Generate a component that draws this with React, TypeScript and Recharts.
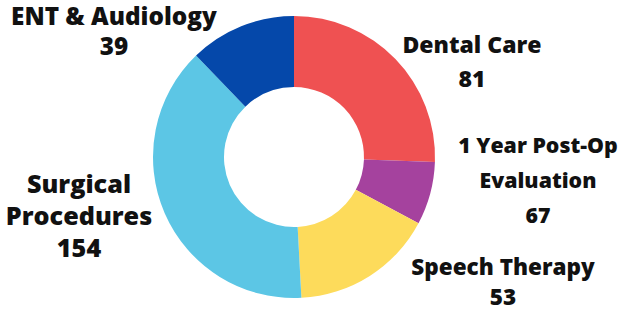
import React from "react"
import { PieChart, Pie, Cell } from "recharts"

// order: clockwise from 12 o'clock
const categories = [
  "Dental Care",
  "1 Year Post-Op Evaluation",
  "Speech Therapy",
  "Surgical Procedures",
  "ENT & Audiology",
]
// printed counts in the labels
const counts = [81, 67, 53, 154, 39]
// slice sizes as drawn (arc, degrees)
const sliceSizes = [92, 26, 59, 139, 44]
const colors = ["#EF5152", "#A5429E", "#FDDB5B", "#5CC6E5", "#0548AA"]

// label lines as they are broken in the picture
const labelLines = [
  ["Dental Care"],
  ["1 Year Post-Op", "Evaluation"],
  ["Speech Therapy"],
  ["Surgical", "Procedures"],
  ["ENT & Audiology"],
]

// text placement: center x, first baseline, line gap, font size
const labelLayout = [
  { x: 472, y: 53, gap: 34, size: 23 },
  { x: 538, y: 153, gap: 35, size: 21.3 },
  { x: 503, y: 275, gap: 30, size: 22.5 },
  { x: 79, y: 193, gap: 32, size: 25.2 },
  { x: 114, y: 25, gap: 30, size: 24.3 },
]

const data = categories.map((name, i) => ({
  name,
  count: counts[i],
  size: sliceSizes[i],
}))

const FONT = "'Open Sans', sans-serif"

const renderLabel = (props: any) => {
  const i = props.index
  const l = labelLayout[i]
  const lines = [...labelLines[i], String(counts[i])]
  return (
    <g key={`lbl-${i}`}>
      {lines.map((t, j) => (
        <text
          key={j}
          x={l.x}
          y={l.y + j * l.gap}
          textAnchor="middle"
          fill="#111"
          fontFamily={FONT}
          fontWeight={800}
          fontSize={l.size}
        >
          {t}
        </text>
      ))}
    </g>
  )
}

export default function App() {
  return (
    <div style={{ position: "absolute", left: 0, top: 0, background: "#fff" }}>
      <PieChart width={621} height={311} margin={{ top: 0, right: 0, bottom: 0, left: 0 }}>
        <Pie
          data={data}
          dataKey="size"
          nameKey="name"
          cx={294}
          cy={157}
          innerRadius={70}
          outerRadius={141}
          startAngle={90}
          endAngle={-270}
          stroke="none"
          label={renderLabel}
          labelLine={false}
          isAnimationActive={false}
        >
          {data.map((d, i) => (
            <Cell key={d.name} fill={colors[i]} />
          ))}
        </Pie>
      </PieChart>
    </div>
  )
}
